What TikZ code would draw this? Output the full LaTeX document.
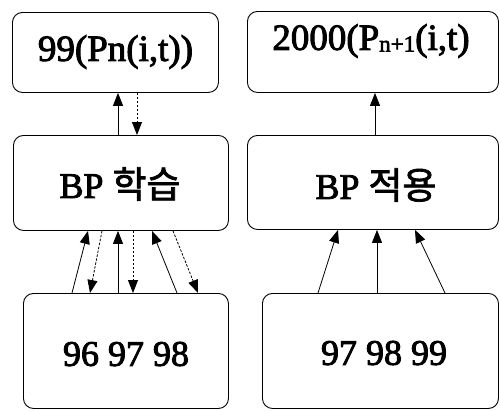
\documentclass[tikz,border=0pt]{standalone}
\usepackage{fontspec}
\setmainfont{Liberation Serif}
\newfontfamily\lat{Liberation Serif}[FakeBold=2.5]
\newfontfamily\kr{Noto Sans CJK KR}[FakeBold=2]
\usetikzlibrary{arrows.meta}
\tikzset{
  box/.style={draw, line width=0.9pt, rounded corners=10pt, inner sep=0pt, anchor=north west},
  lbl/.style={inner sep=0pt, font=\lat\fontsize{36}{40}\selectfont},
  con/.style={line width=0.8pt, -{Triangle[length=13pt,width=10pt]}},
  dcon/.style={con, dash pattern=on 2.5pt off 1.5pt}
}
\begin{document}
\begin{tikzpicture}[x=1pt,y=-1pt]
\useasboundingbox (0,0) rectangle (500,410);
\node[box, minimum width=206pt, minimum height=80pt] (b1) at (12,12) {};
\node[box, minimum width=251pt, minimum height=81pt] (b2) at (247,11) {};
\node[box, minimum width=215pt, minimum height=95pt] (b3) at (13,135) {};
\node[box, minimum width=251pt, minimum height=94pt] (b4) at (247,135) {};
\node[box, minimum width=205pt, minimum height=115pt] (b5) at (23,293) {};
\node[box, minimum width=236pt, minimum height=115pt] (b6) at (262,293) {};
\node[lbl, font=\lat\fontsize{37}{40}\selectfont] (t1) at (115.5,52) {99(Pn(i,t))};
\node[lbl, font=\lat\fontsize{37}{40}\selectfont] (t2) at (371,41) {2000(P\raisebox{-0.1ex}{\fontsize{23}{24}\selectfont n+1}(i,t)};
\node[lbl] (t3) at (120,184) {BP {\kr\fontsize{37}{40}\selectfont 학습}};
\node[lbl] (t4) at (376,185) {BP {\kr\fontsize{37}{40}\selectfont 적용}};
\node[lbl] (t5) at (126,354) {96 97 98};
\node[lbl] (t6) at (384,353) {97 98 99};
% b3 <-> b1
\draw[con] ([xshift=105pt]b3.north west) -- ([xshift=106pt]b1.south west);
\draw[dcon] ([xshift=125pt]b1.south west) -- ([xshift=124pt]b3.north west);
% b4 -> b2
\draw[con] ([xshift=128pt]b4.north west) -- ([xshift=128pt]b2.south west);
% b5 <-> b3
\draw[con] ([xshift=49pt]b5.north west) -- ([xshift=75pt]b3.south west);
\draw[dcon] ([xshift=89pt]b3.south west) -- ([xshift=67pt]b5.north west);
\draw[con] ([xshift=95pt]b5.north west) -- ([xshift=105pt]b3.south west);
\draw[dcon] ([xshift=120pt]b3.south west) -- ([xshift=110pt]b5.north west);
\draw[con] ([xshift=154pt]b5.north west) -- ([xshift=139pt]b3.south west);
\draw[dcon] ([xshift=160pt]b3.south west) -- ([xshift=175pt]b5.north west);
% b6 -> b4
\draw[con] ([xshift=56pt]b6.north west) -- ([xshift=91pt]b4.south west);
\draw[con] ([xshift=115pt]b6.north west) -- ([xshift=130pt]b4.south west);
\draw[con] ([xshift=183pt]b6.north west) -- ([xshift=168pt]b4.south west);
\end{tikzpicture}
\end{document}
